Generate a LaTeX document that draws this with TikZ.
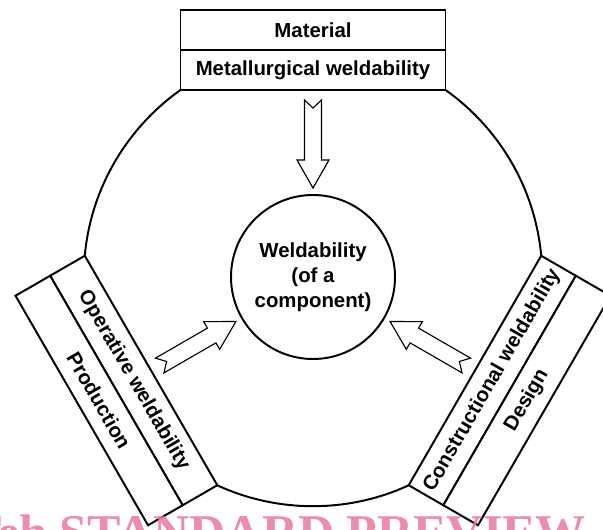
\documentclass[tikz,border=0pt]{standalone}
\usepackage{fontspec}
\setmainfont{Liberation Sans}
\newfontfamily\stampfont{Liberation Serif}
\usetikzlibrary{calc,positioning}
\definecolor{stamppink}{RGB}{232,122,157}

\begin{document}
\begin{tikzpicture}[font=\bfseries\fontsize{14.5}{17.8}\selectfont, line width=1.4pt]

  \useasboundingbox (-7.825,-6.3) rectangle (7.25,6.925);
  \clip (-7.825,-6.3) rectangle (7.25,6.925);

  \coordinate (centre) at (0,0);
  \draw (centre) circle (5.73);

  % blocks round the ring: inner row touches the circle
  \foreach \ang/\rot/\inner/\outer/\nm in {0/0/Metallurgical weldability/Material/mat,
      120/180/Operative weldability/Production/prod,
      -120/180/Constructional weldability/Design/des} {
    \begin{scope}[rotate=\ang, transform shape]
      \node [draw, fill=white, rectangle, rotate=\rot, minimum width=6.625cm, minimum height=1cm, inner sep=0pt] at(0,5.175) (\nm_in) {\inner};
      \node [draw, fill=white, rectangle, rotate=\rot, minimum width=6.625cm, minimum height=1cm, inner sep=0pt] at(0,6.175) (\nm_out) {\outer};

      % hollow arrow with notched tail
      \draw [line width=0.8pt, fill=white] (-0.2125,4.425) -- (0,4.225) -- (0.2125,4.425) -- (0.2125,2.925)
        -- (0.4,2.925) -- (0,2.225) -- (-0.4,2.925) -- (-0.2125,2.925) -- cycle;
    \end{scope}
  }

  \node [draw, circle, minimum size=4.1cm, align=center] at(centre) (weld) {Weldability\\(of a\\component)};

  \node [anchor=base east, inner sep=0pt, opacity=0.85, text=stamppink,
    font=\stampfont\bfseries\fontsize{35.6}{36}\selectfont] at(6.85,-6.8) (stamp) {iTeh STANDARD PREVIEW};

\end{tikzpicture}
\end{document}
